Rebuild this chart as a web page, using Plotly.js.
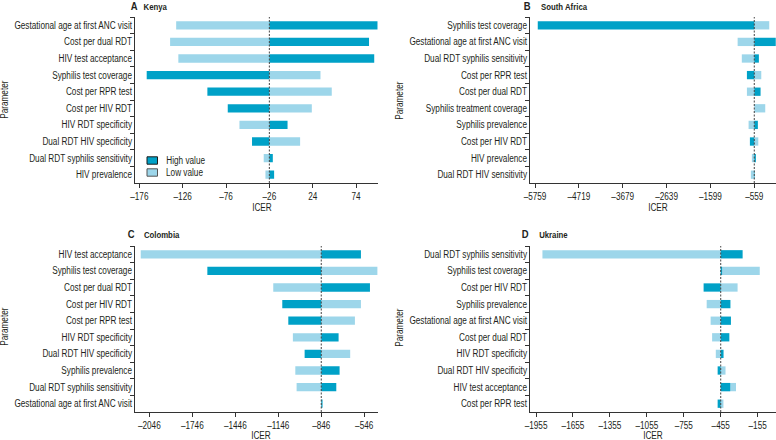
<!DOCTYPE html>
<html>
<head>
<meta charset="utf-8">
<script src="https://cdn.plot.ly/plotly-3.0.1.min.js"></script>
<style>html,body{margin:0;padding:0;background:#fff}#chart{width:776px;height:440px}</style>
</head>
<body>
<div id="chart"></div>
<script>
// ---- Data ----
const kenyaParams = ["Gestational age at first ANC visit","Cost per dual RDT","HIV test acceptance","Syphilis test coverage","Cost per RPR test","Cost per HIV RDT","HIV RDT specificity","Dual RDT HIV specificity","Dual RDT syphilis sensitivity","HIV prevalence"];
const kenyaHigh = [99, 89, 95, -167.5, -97.5, -74, -5, -46, -22, -20.5];
const kenyaLow = [-133.5, -140.5, -131, 33, 46, 23, -60.5, 9.5, -32.5, -30.5];
const kenyaBase = -26;
const kenyaTicks = [-176, -126, -76, -26, 24, 74];

const saParams = ["Syphilis test coverage","Gestational age at first ANC visit","Dual RDT syphilis sensitivity","Cost per RPR test","Cost per dual RDT","Syphilis treatment coverage","Syphilis prevalence","Cost per HIV RDT","HIV prevalence","Dual RDT HIV sensitivity"];
const saHigh = [-5694, -50, -450, -734, -410, -559, -474, -663, -521, -548];
const saLow = [-204, -954, -855, -393, -734, -299, -694, -464, -616, -640];
const saBase = -559;
const saTicks = [-5759, -4719, -3679, -2639, -1599, -559];

const colParams = ["HIV test acceptance","Syphilis test coverage","Cost per dual RDT","Cost per HIV RDT","Cost per RPR test","HIV RDT specificity","Dual RDT HIV specificity","Syphilis prevalence","Dual RDT syphilis sensitivity","Gestational age at first ANC visit"];
const colHigh = [-569, -1641, -506, -1118, -1076, -725, -962, -718, -741, -837];
const colLow = [-2106, -453, -1181, -569, -611, -1044, -644, -1027, -1018, -846];
const colBase = -846;
const colTicks = [-2046, -1746, -1446, -1146, -846, -546];

const ukrParams = ["Dual RDT syphilis sensitivity","Syphilis test coverage","Cost per HIV RDT","Syphilis prevalence","Gestational age at first ANC visit","Cost per dual RDT","HIV RDT specificity","Dual RDT HIV specificity","HIV test acceptance","Cost per RPR test"];
const ukrHigh = [-277, -444, -594, -376, -372, -385, -432, -480, -378, -480];
const ukrLow = [-1903, -138, -318, -569, -537, -525, -495, -416, -331, -433];
const ukrBase = -455;
const ukrTicks = [-1955, -1655, -1355, -1055, -755, -455, -155];

// ---- Styling ----
const DARK = '#00A1C7';
const LIGHT = '#9DD6EA';
const TXT = '#231f20';
const FONT = '"Liberation Sans", Arial, sans-serif';
const CONDENSE = 0.82;
const W = 776, H = 440;
const px = v => v / W;
const py = v => 1 - v / H;

const panels = [
  {params: kenyaParams, high: kenyaHigh, low: kenyaLow, base: kenyaBase, ticks: kenyaTicks,
   xr: [-181, 99], xd: [135, 377.7], yd: [17, 183], letter: 'A', name: 'Kenya', tx: 127.5, nx: 139, ty: 6, ptx: 4, pty: 100, itx: 262, ity: 208},
  {params: saParams, high: saHigh, low: saLow, base: saBase, ticks: saTicks,
   xr: [-5878, -44], xd: [530, 776], yd: [17, 183], letter: 'B', name: 'South Africa', tx: 520.5, nx: 533.5, ty: 6, ptx: 399, pty: 100, itx: 658, ity: 208},
  {params: colParams, high: colHigh, low: colLow, base: colBase, ticks: colTicks,
   xr: [-2146, -452], xd: [135, 377.7], yd: [246, 412], letter: 'C', name: 'Colombia', tx: 124.5, nx: 138, ty: 234, ptx: 4, pty: 327, itx: 261, ity: 435},
  {params: ukrParams, high: ukrHigh, low: ukrLow, base: ukrBase, ticks: ukrTicks,
   xr: [-2004, -6], xd: [530, 776], yd: [246, 412], letter: 'D', name: 'Ukraine', tx: 518.5, nx: 533.5, ty: 234, ptx: 399, pty: 327, itx: 653, ity: 435}
];

const fmt = v => (v < 0 ? '\u2013' + Math.abs(v) : String(v));

const traces = [];
const layout = {
  width: W, height: H,
  margin: {l: 0, r: 0, t: 0, b: 0},
  paper_bgcolor: '#fff', plot_bgcolor: '#fff',
  barmode: 'overlay',
  showlegend: false,
  font: {family: FONT, size: 10, color: TXT},
  shapes: [], annotations: []
};

panels.forEach((p, i) => {
  const n = i + 1;
  const xa = n === 1 ? 'x' : 'x' + n;
  const ya = n === 1 ? 'y' : 'y' + n;
  traces.push({
    type: 'bar', orientation: 'h', name: 'Low value',
    y: p.params, x: p.low.map(v => v - p.base), base: p.base,
    width: 0.5, marker: {color: LIGHT, line: {width: 0}},
    xaxis: xa, yaxis: ya, hoverinfo: 'skip'
  });
  traces.push({
    type: 'bar', orientation: 'h', name: 'High value',
    y: p.params, x: p.high.map(v => v - p.base), base: p.base,
    width: 0.5, marker: {color: DARK, line: {width: 0}},
    xaxis: xa, yaxis: ya, hoverinfo: 'skip'
  });
  const xk = n === 1 ? 'xaxis' : 'xaxis' + n;
  const yk = n === 1 ? 'yaxis' : 'yaxis' + n;
  layout[xk] = {
    domain: [px(p.xd[0]), px(p.xd[1])], range: p.xr, anchor: ya,
    showgrid: false, zeroline: false, showline: true, linecolor: '#333', linewidth: 1,
    ticks: 'outside', ticklen: 4, tickcolor: '#333', tickwidth: 1,
    tickvals: p.ticks, ticktext: p.ticks.map(fmt),
    tickfont: {family: FONT, size: 10, color: TXT}, fixedrange: true
  };
  layout[yk] = {
    domain: [py(p.yd[1]), py(p.yd[0])], anchor: xa,
    type: 'category', categoryorder: 'array', categoryarray: p.params,
    range: [p.params.length - 0.5, -0.5],
    showgrid: false, zeroline: false, showline: true, linecolor: '#333', linewidth: 1,
    ticks: 'outside', tickson: 'boundaries', ticklen: 4, tickcolor: '#333', tickwidth: 1,
    tickfont: {family: FONT, size: 10, color: TXT}, fixedrange: true
  };
  // baseline dashed line
  layout.shapes.push({
    type: 'line', xref: xa, yref: ya + ' domain', x0: p.base, x1: p.base, y0: 0, y1: 1,
    line: {color: '#444', width: 1, dash: '2px,1.5px'}, layer: 'above'
  });
  // panel title: letter + country
  layout.annotations.push({
    xref: 'paper', yref: 'paper', x: px(p.tx), y: py(p.ty), xanchor: 'left', yanchor: 'middle',
    showarrow: false, text: '<b>' + p.letter + '</b>',
    font: {family: FONT, size: 11.5, color: TXT}
  });
  layout.annotations.push({
    xref: 'paper', yref: 'paper', x: px(p.nx), y: py(p.ty), xanchor: 'left', yanchor: 'middle',
    showarrow: false, text: '<b>' + p.name + '</b>',
    font: {family: FONT, size: 9.5, color: TXT}
  });
  // Parameter label
  layout.annotations.push({
    xref: 'paper', yref: 'paper', x: px(p.ptx), y: py(p.pty), xanchor: 'center', yanchor: 'middle',
    showarrow: false, textangle: -90, text: 'Parameter', font: {family: FONT, size: 10, color: TXT}
  });
  // ICER label
  layout.annotations.push({
    xref: 'paper', yref: 'paper', x: px(p.itx), y: py(p.ity), xanchor: 'center', yanchor: 'middle',
    showarrow: false, text: 'ICER', font: {family: FONT, size: 10, color: TXT}
  });
});

// legend (panel A), drawn manually
const legendItems = [
  {label: 'High value', color: DARK, border: '#1a1a1a', y: 160.5},
  {label: 'Low value', color: LIGHT, border: '#555', y: 172.5}
];
legendItems.forEach(it => {
  layout.shapes.push({
    type: 'rect', xref: 'paper', yref: 'paper',
    x0: px(147), x1: px(157.5), y0: py(it.y + 3.7), y1: py(it.y - 3.7),
    fillcolor: it.color, line: {color: it.border, width: 1}
  });
  layout.annotations.push({
    xref: 'paper', yref: 'paper', x: px(160), y: py(it.y), xanchor: 'left', yanchor: 'middle',
    showarrow: false, text: it.label, font: {family: FONT, size: 10, color: TXT}
  });
});

Plotly.newPlot('chart', traces, layout, {displayModeBar: false, staticPlot: true}).then(gd => {
  // emulate the condensed typeface of the original figure
  gd.querySelectorAll('text').forEach(t => {
    const L = t.getComputedTextLength();
    if (L > 0) {
      t.setAttribute('textLength', (L * CONDENSE).toFixed(2));
      t.setAttribute('lengthAdjust', 'spacingAndGlyphs');
    }
  });
});
</script>
</body>
</html>
